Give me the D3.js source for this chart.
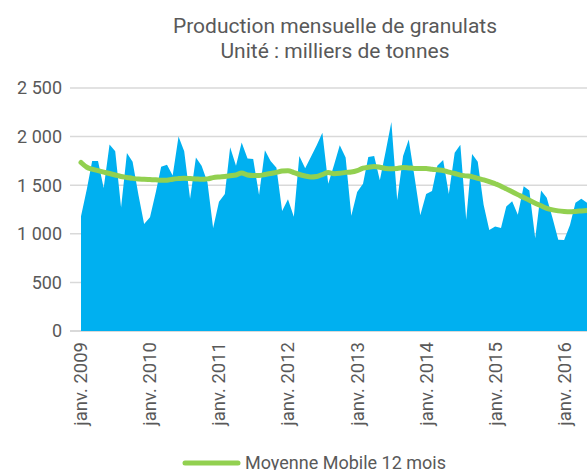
<!DOCTYPE html>
<html>
<head>
<meta charset="utf-8">
<script src="https://cdn.jsdelivr.net/npm/d3@7.9.0/dist/d3.min.js"></script>
<style>
  body { margin: 0; background: #fff; }
  svg { display: block; font-family: Roboto, 'Noto Sans', sans-serif; }
</style>
</head>
<body>
<svg id="chart" width="587" height="470"></svg>
<script>
const titleLines = ['Production mensuelle de granulats', 'Unité : milliers de tonnes'];
const legendLabel = 'Moyenne Mobile 12 mois';

// one value per month, janv. 2009 -> mai 2016
const firstMonth = new Date(2009, 0, 1);
const production = [
  1180, 1460, 1750, 1750, 1470, 1920, 1850, 1270, 1830, 1740, 1400, 1100, // 2009
  1170, 1430, 1690, 1710, 1600, 2000, 1850, 1360, 1785, 1700, 1530, 1060, // 2010
  1330, 1410, 1890, 1700, 1940, 1775, 1770, 1400, 1860, 1750, 1680, 1235, // 2011
  1355, 1175, 1800, 1675, 1790, 1910, 2040, 1515, 1710, 1910, 1785, 1185, // 2012
  1430, 1515, 1790, 1800, 1550, 1850, 2150, 1345, 1800, 1970, 1580, 1190, // 2013
  1410, 1440, 1700, 1760, 1410, 1835, 1915, 1145, 1820, 1740, 1300, 1040, // 2014
  1075, 1060, 1280, 1335, 1195, 1490, 1445, 955, 1445, 1370, 1160, 940,    // 2015
  935, 1090, 1320, 1360, 1320                                              // 2016
];
const movingAverage = [
  1734, 1685, 1665, 1650, 1635, 1620, 1605, 1590, 1580, 1570, 1563, 1561,
  1558, 1555, 1550, 1552, 1562, 1568, 1572, 1568, 1565, 1560, 1565, 1578,
  1585, 1590, 1597, 1605, 1625, 1605, 1600, 1600, 1610, 1620, 1632, 1645,
  1648, 1630, 1610, 1595, 1585, 1590, 1610, 1630, 1618, 1622, 1632, 1636,
  1650, 1675, 1685, 1693, 1685, 1672, 1668, 1672, 1682, 1678, 1673, 1673,
  1672, 1664, 1658, 1651, 1634, 1620, 1604, 1596, 1587, 1570, 1555, 1538,
  1515, 1490, 1462, 1432, 1403, 1374, 1344, 1315, 1288, 1262, 1246, 1236,
  1230, 1227, 1230, 1235, 1240
];
const yTicks = [0, 500, 1000, 1500, 2000, 2500];
const xTickYears = [2009, 2010, 2011, 2012, 2013, 2014, 2015, 2016];

const months = production.map((_, i) => d3.timeMonth.offset(firstMonth, i));
const series = months.map((date, i) => ({ date, value: production[i], avg: movingAverage[i] }));

const svg = d3.select('#chart');
const textColor = '#595959';

const x = d3.scaleTime()
  .domain(d3.extent(months))
  .range([81, 587]);

const y = d3.scaleLinear()
  .domain([0, 2500])
  .range([331, 88]);

const fmt = d3.formatLocale({ decimal: ',', thousands: '\u00a0', grouping: [3], currency: ['', ' €'] }).format(',d');

// gridlines
svg.append('g')
  .selectAll('line')
  .data(yTicks)
  .join('line')
  .attr('x1', 70)
  .attr('x2', 587)
  .attr('y1', (d) => y(d))
  .attr('y2', (d) => y(d))
  .attr('stroke', '#d9d9d9')
  .attr('stroke-width', (d) => (d === 0 ? 2 : 1.5));

// y labels
svg.append('g')
  .selectAll('text')
  .data(yTicks)
  .join('text')
  .attr('x', 62)
  .attr('y', (d) => y(d))
  .attr('dy', '0.35em')
  .attr('text-anchor', 'end')
  .attr('font-size', 18)
  .attr('fill', textColor)
  .text((d) => fmt(d));

// production area
const area = d3.area()
  .x((d) => x(d.date))
  .y0(y(0))
  .y1((d) => y(d.value));

svg.append('path')
  .datum(series)
  .attr('d', area)
  .attr('fill', '#00b0f0');

// moving average
const line = d3.line()
  .x((d) => x(d.date))
  .y((d) => y(d.avg))
  .curve(d3.curveMonotoneX);

svg.append('path')
  .datum(series)
  .attr('d', line)
  .attr('fill', 'none')
  .attr('stroke', '#92d050')
  .attr('stroke-width', 5)
  .attr('stroke-linecap', 'round')
  .attr('stroke-linejoin', 'round');

// x labels
svg.append('g')
  .selectAll('text')
  .data(xTickYears)
  .join('text')
  .attr('transform', (d) => `translate(${x(new Date(d, 0, 1))}, 342) rotate(-90)`)
  .attr('dy', '0.35em')
  .attr('text-anchor', 'end')
  .attr('font-size', 18.5)
  .attr('fill', textColor)
  .text((d) => 'janv. ' + d);

// title
svg.append('g')
  .selectAll('text')
  .data(titleLines)
  .join('text')
  .attr('x', 335)
  .attr('y', (d, i) => 33 + i * 25)
  .attr('text-anchor', 'middle')
  .attr('font-size', 21)
  .attr('fill', textColor)
  .text((d) => d);

// legend
const legend = svg.append('g').attr('transform', 'translate(0, 463)');
legend.append('line')
  .attr('x1', 185)
  .attr('x2', 238)
  .attr('stroke', '#92d050')
  .attr('stroke-width', 5)
  .attr('stroke-linecap', 'round');
legend.append('text')
  .attr('x', 245)
  .attr('dy', '0.35em')
  .attr('font-size', 18)
  .attr('fill', textColor)
  .text(legendLabel);
</script>
</body>
</html>
